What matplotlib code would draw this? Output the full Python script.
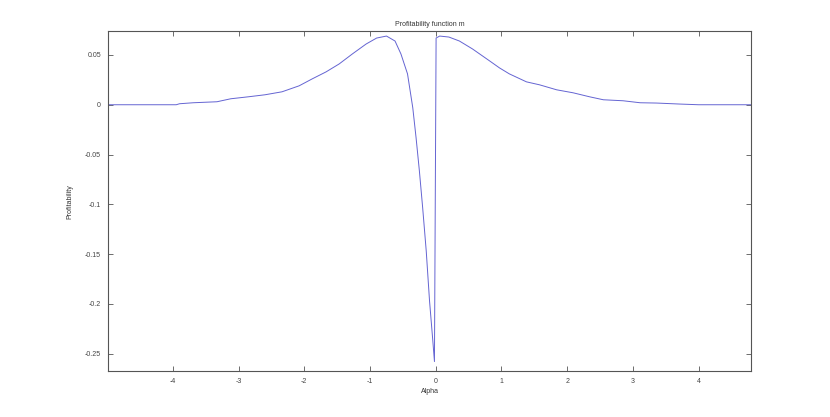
import matplotlib
matplotlib.use("Agg")
import matplotlib.pyplot as plt

# profitability curve
alpha = [-4.99, -4.6, -4.2, -3.95, -3.9, -3.69, -3.33, -3.12, -2.85, -2.6,
         -2.34, -2.08, -1.88, -1.67, -1.47, -1.27, -1.06, -0.90, -0.75, -0.62,
         -0.53, -0.43, -0.35, -0.30, -0.25, -0.20, -0.145, -0.095, -0.045, -0.02,
         0.005, 0.06, 0.2, 0.36, 0.56, 0.82, 0.97, 1.12, 1.38, 1.58,
         1.84, 2.09, 2.34, 2.55, 2.85, 3.11, 3.36, 3.71, 4.0, 4.8]
profit = [0.0, 0.0, 0.0, 0.0, 0.001, 0.002, 0.003, 0.006, 0.008, 0.010,
          0.013, 0.019, 0.026, 0.033, 0.041, 0.051, 0.061, 0.067, 0.069, 0.064,
          0.051, 0.031, -0.003, -0.033, -0.066, -0.103, -0.147, -0.197, -0.237, -0.258,
          0.067, 0.069, 0.068, 0.064, 0.056, 0.044, 0.037, 0.031, 0.023, 0.020,
          0.015, 0.012, 0.008, 0.005, 0.004, 0.002, 0.0017, 0.0007, 0.0, 0.0]

xticks = [-4, -3, -2, -1, 0, 1, 2, 3, 4]
yticks = [0.05, 0, -0.05, -0.1, -0.15, -0.2, -0.25]
ytick_labels = ["0.05", "0", "-0.05", "-0.1", "-0.15", "-0.2", "-0.25"]

plt.rcParams.update({"font.family": "Liberation Sans", "font.size": 5,
                     "axes.unicode_minus": False})

fig = plt.figure(figsize=(8.3, 4.17), dpi=100)
ax = fig.add_axes([0.13, 0.11, 0.775, 0.815])
ax.plot(alpha, profit, color="#6464d2", linewidth=0.7)

ax.set_xlim(-4.99, 4.80)
ax.set_ylim(-0.2676, 0.0738)
ax.set_xticks(xticks)
ax.set_yticks(yticks)
ax.set_yticklabels(ytick_labels)
ax.tick_params(direction="in", length=3.5, width=0.6, color="#555555",
               labelsize=5, labelcolor="#444444", top=True, right=True, pad=5)
for s in ax.spines.values():
    s.set_color("#555555")
    s.set_linewidth(0.8)

ax.set_title("Profitability function m", fontsize=5, color="#333333", pad=4)
ax.set_xlabel("Alpha", fontsize=5, color="#333333", labelpad=2)
ax.set_ylabel("Profitability", fontsize=5, color="#333333", labelpad=8)

fig.savefig("out.png", dpi=100)
